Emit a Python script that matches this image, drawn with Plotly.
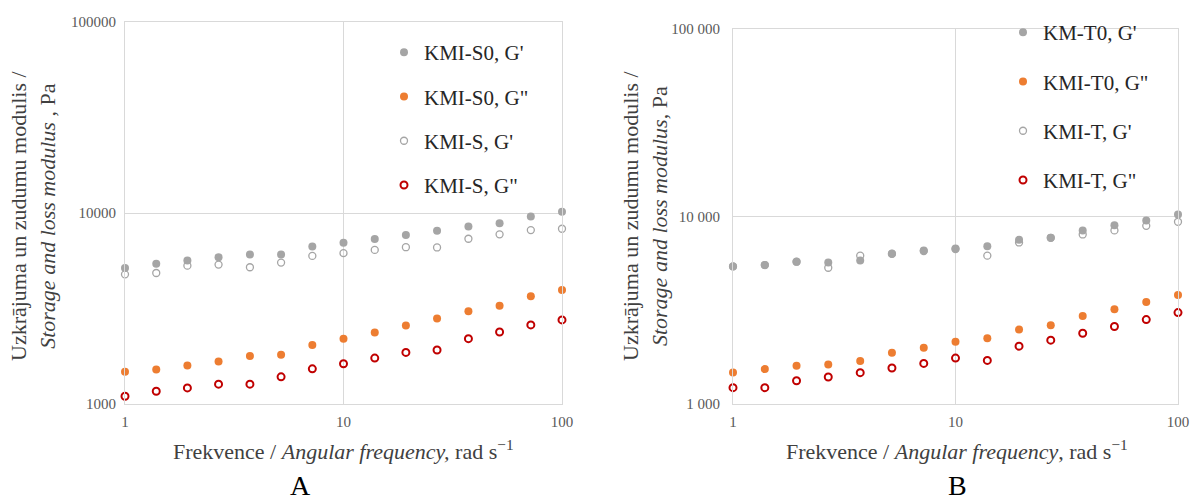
import plotly.graph_objects as go

# ---------------- data ----------------
freq = [1, 1.39, 1.93, 2.68, 3.73, 5.18, 7.2, 10, 13.9, 19.3, 26.8, 37.3, 51.8, 72, 100]

# Panel A
kmi_s0_gp = [5150, 5430, 5640, 5870, 6060, 6060, 6680, 6980, 7300, 7660, 8070, 8510, 8830, 9600, 10160]
kmi_s0_gpp = [1474, 1517, 1592, 1671, 1782, 1811, 2036, 2198, 2365, 2574, 2802, 3061, 3266, 3670, 3948]
kmi_s_gp = [4775, 4850, 5300, 5370, 5200, 5500, 5960, 6160, 6410, 6620, 6600, 7330, 7730, 8140, 8270]
kmi_s_gpp = [1098, 1166, 1214, 1270, 1270, 1387, 1528, 1625, 1739, 1862, 1917, 2198, 2383, 2594, 2756]

# Panel B
km_t0_gp = [5420, 5510, 5740, 5690, 5830, 6330, 6590, 6760, 6950, 7510, 7700, 8430, 8990, 9530, 10250]
kmi_t0_gpp = [1474, 1535, 1600, 1626, 1694, 1875, 1994, 2147, 2244, 2495, 2631, 2951, 3199, 3499, 3819]
kmi_t_gp = [5420, 5510, 5740, 5330, 6180, 6330, 6540, 6700, 6180, 7270, 7700, 8020, 8430, 8920, 9370]
kmi_t_gpp = [1222, 1222, 1331, 1393, 1469, 1556, 1646, 1758, 1708, 2035, 2190, 2385, 2590, 2820, 3073]

names_a = ["KMI-S0, G'", 'KMI-S0, G"', "KMI-S, G'", 'KMI-S, G"']
names_b = ["KM-T0, G'", 'KMI-T0, G"', "KMI-T, G'", 'KMI-T, G"']

x_tickvals = [1, 10, 100]
x_ticktext = ["1", "10", "100"]
y_tickvals = [1000, 10000, 100000]
y_ticktext_a = ["1000", "10000", "100000"]
y_ticktext_b = ["1 000", "10 000", "100 000"]

# ---------------- styles ----------------
GRAY = "#a5a5a5"
ORANGE = "#ed7d31"
RED = "#c00000"
FONT = "Liberation Serif"

styles = [
    dict(symbol="circle", color=GRAY, size=8, line=dict(width=0)),
    dict(symbol="circle", color=ORANGE, size=8, line=dict(width=0)),
    dict(symbol="circle-open", color=GRAY, size=7, line=dict(width=1.3, color=GRAY)),
    dict(symbol="circle-open", color=RED, size=7, line=dict(width=2, color=RED)),
]

fig = go.Figure()

series_a = [kmi_s0_gp, kmi_s0_gpp, kmi_s_gp, kmi_s_gpp]
series_b = [km_t0_gp, kmi_t0_gpp, kmi_t_gp, kmi_t_gpp]

for i, (nm, ys) in enumerate(zip(names_a, series_a)):
    fig.add_trace(go.Scatter(x=freq, y=ys, mode="markers", name=nm, marker=styles[i],
                             xaxis="x", yaxis="y", legend="legend",
                             legendgroup="a%d" % i, cliponaxis=False))
for i, (nm, ys) in enumerate(zip(names_b, series_b)):
    fig.add_trace(go.Scatter(x=freq, y=ys, mode="markers", name=nm, marker=styles[i],
                             xaxis="x2", yaxis="y2", legend="legend2",
                             legendgroup="b%d" % i, cliponaxis=False))

W, H = 1192, 502


def px(x):
    return x / W


def py(y):
    return 1 - y / H


axis_common = dict(
    type="log", automargin=False,
    showgrid=True, gridcolor="#d9d9d9", gridwidth=1,
    showline=True, linecolor="#d9d9d9", linewidth=1, mirror=True,
    zeroline=False, ticks="",
    tickfont=dict(family=FONT, size=15, color="#595959"),
)

fig.update_layout(
    width=W, height=H,
    margin=dict(l=0, r=0, t=0, b=0, autoexpand=False),
    paper_bgcolor="white", plot_bgcolor="white",
    font=dict(family=FONT, color="#262626"),
    xaxis=dict(axis_common, domain=[px(125), px(562)], range=[0, 2], anchor="y",
               tickvals=x_tickvals, ticktext=x_ticktext, ticklabelstandoff=4),
    yaxis=dict(axis_common, domain=[py(404), py(22)], range=[3, 5], anchor="x",
               tickvals=y_tickvals, ticktext=y_ticktext_a, ticklabelstandoff=5),
    xaxis2=dict(axis_common, domain=[px(733), px(1178)], range=[0, 2], anchor="y2",
                tickvals=x_tickvals, ticktext=x_ticktext, ticklabelstandoff=4),
    yaxis2=dict(axis_common, domain=[py(404), py(29)], range=[3, 5], anchor="x2",
                tickvals=y_tickvals, ticktext=y_ticktext_b, ticklabelstandoff=9),
    legend=dict(x=px(384), y=py(32), xanchor="left", yanchor="top",
                font=dict(family=FONT, size=21, color="#262626"),
                bgcolor="rgba(0,0,0,0)", traceorder="grouped", tracegroupgap=14,
                itemwidth=30),
    legend2=dict(x=px(1003), y=py(12), xanchor="left", yanchor="top",
                 font=dict(family=FONT, size=21, color="#262626"),
                 bgcolor="rgba(0,0,0,0)", traceorder="grouped", tracegroupgap=19,
                 itemwidth=30),
    showlegend=True,
)

ann = []
title_font = dict(family=FONT, size=22, color="#404040")
# y titles
ann.append(dict(text="Uzkrājuma un zudumu modulis /<br><i>Storage and loss modulus</i> , Pa",
                x=px(33), y=py(216), xref="paper", yref="paper", textangle=-90,
                xanchor="center", yanchor="middle",
                showarrow=False, font=title_font, align="center"))
ann.append(dict(text="Uzkrājuma un zudumu modulis /<br><i>Storage and loss modulus</i>, Pa",
                x=px(645), y=py(216), xref="paper", yref="paper", textangle=-90,
                xanchor="center", yanchor="middle",
                showarrow=False, font=title_font, align="center"))
# x titles
ann.append(dict(text="Frekvence / <i>Angular frequency,</i> rad s<sup>−1</sup>",
                x=px(343), y=py(450), xref="paper", yref="paper",
                xanchor="center", yanchor="middle",
                showarrow=False, font=title_font))
ann.append(dict(text="Frekvence / <i>Angular frequency</i>, rad s<sup>−1</sup>",
                x=px(957), y=py(450), xref="paper", yref="paper",
                xanchor="center", yanchor="middle",
                showarrow=False, font=title_font))
# panel labels
ann.append(dict(text="A", x=px(300), y=py(485), xref="paper", yref="paper",
                xanchor="center", yanchor="middle",
                showarrow=False, font=dict(family=FONT, size=28, color="#000000")))
ann.append(dict(text="B", x=px(957), y=py(485), xref="paper", yref="paper",
                xanchor="center", yanchor="middle",
                showarrow=False, font=dict(family=FONT, size=28, color="#000000")))
fig.update_layout(annotations=ann)

fig.write_html("out.html", config={"displayModeBar": False},
               post_script="document.body.style.margin='0';document.body.style.overflow='hidden';")
